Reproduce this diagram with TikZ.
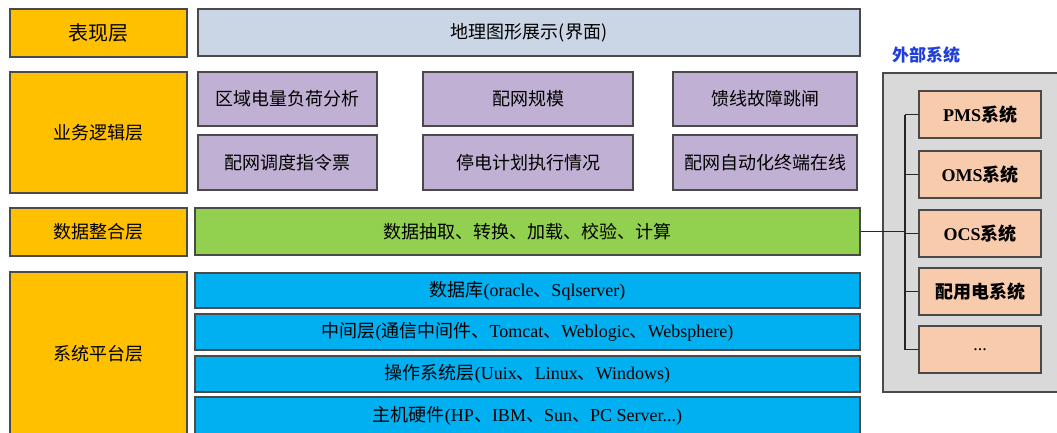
\documentclass[tikz,border=0pt]{standalone}
\usepackage{fontspec}
\setmainfont{Liberation Serif}
\newfontfamily\cjk{Noto Sans CJK SC}
\definecolor{edgec}{HTML}{4A4A4A}
\definecolor{layerc}{HTML}{FFC000}
\definecolor{topc}{HTML}{CAD6E5}
\definecolor{bizc}{HTML}{C0B0D3}
\definecolor{greenc}{HTML}{92D050}
\definecolor{bluec}{HTML}{00B0F0}
\definecolor{extc}{HTML}{D9D9D9}
\definecolor{peachc}{HTML}{F8CBAD}
\definecolor{titlec}{HTML}{1F3FD8}
\tikzset{
  box/.style={draw=edgec, line width=1.2pt, inner sep=0pt, rectangle,
    font=\cjk\fontsize{18}{21}\selectfont, text=black},
  layer/.style={box, fill=layerc},
  topbox/.style={box, fill=topc},
  biz/.style={box, fill=bizc},
  integ/.style={box, fill=greenc},
  plat/.style={box, fill=bluec, font=\fontsize{18}{21}\selectfont},
  extbox/.style={draw=edgec, line width=1.2pt, fill=extc},
  sysbox/.style={box, fill=peachc, font=\bfseries\fontsize{18}{21}\selectfont},
  bus/.style={draw=black!85, line width=1.8pt}
}
\newcommand{\cj}[1]{{\cjk #1}}
\begin{document}
\begin{tikzpicture}[x=1pt,y=-1pt]
\useasboundingbox (0,0) rectangle (1057,432);
% left layer column
\node[layer, minimum width=177pt, minimum height=48pt, font=\cjk\fontsize{20}{23}\selectfont] (l1) at (98.5,33) {表现层};
\node[layer, minimum width=177pt, minimum height=121pt] (l2) at (98.5,132.5) {业务逻辑层};
\node[layer, minimum width=177pt, minimum height=48pt] (l3) at (98.5,232) {数据整合层};
\node[layer, minimum width=177pt, minimum height=164pt] (l4) at (98.5,354) {系统平台层};
% presentation
\node[topbox, minimum width=662pt, minimum height=47pt] (t1) at (529,32.5) {地理图形展示(界面)};
% business
\node[biz, minimum width=179pt, minimum height=54pt] (b1) at (287.5,99) {区域电量负荷分析};
\node[biz, minimum width=210pt, minimum height=54pt] (b2) at (528,99) {配网规模};
\node[biz, minimum width=184pt, minimum height=54pt] (b3) at (765,99) {馈线故障跳闸};
\node[biz, minimum width=179pt, minimum height=55pt] (b4) at (287.5,162.5) {配网调度指令票};
\node[biz, minimum width=210pt, minimum height=55pt] (b5) at (528,162.5) {停电计划执行情况};
\node[biz, minimum width=184pt, minimum height=55pt] (b6) at (765,162.5) {配网自动化终端在线};
% integration
\node[integ, minimum width=665pt, minimum height=47pt] (g1) at (527.5,231.5) {数据抽取、转换、加载、校验、计算};
% platform
\node[plat, minimum width=665pt, minimum height=35pt] (p1) at (527.5,290.5) {\cj{数据库}(oracle\cj{、}Sqlserver)};
\node[plat, minimum width=665pt, minimum height=36pt] (p2) at (527.5,332) {\cj{中间层}(\cj{通信中间件、}Tomcat\cj{、}Weblogic\cj{、}Websphere)};
\node[plat, minimum width=665pt, minimum height=36pt] (p3) at (527.5,374) {\cj{操作系统层}(Uuix\cj{、}Linux\cj{、}Windows)};
\node[plat, minimum width=665pt, minimum height=37pt] (p4) at (527.5,415.5) {\cj{主机硬件}(HP\cj{、}IBM\cj{、}Sun\cj{、}PC Server...)};
% external systems
\node[font=\cjk\bfseries\fontsize{17}{20}\selectfont, text=titlec] (etitle) at (926,55) {外部系统};
\draw[extbox] (883,73) rectangle (1064,392);
\node[sysbox, minimum width=122pt, minimum height=47pt] (s1) at (980,114.5) {PMS\cj{系统}};
\node[sysbox, minimum width=122pt, minimum height=47pt] (s2) at (980,174.5) {OMS\cj{系统}};
\node[sysbox, minimum width=122pt, minimum height=47pt] (s3) at (980,233.5) {OCS\cj{系统}};
\node[sysbox, minimum width=122pt, minimum height=47pt] (s4) at (980,291.5) {\cj{配用电系统}};
\node[sysbox, minimum width=122pt, minimum height=47pt, font=\fontsize{18}{21}\selectfont] (s5) at (980,349.5) {...};
\coordinate (bt) at (905,114.5);
\coordinate (bb) at (905,349.5);
\coordinate (bg) at (905,231.5);
\draw[bus] (bt) -- (bb);
\foreach \s in {s1,s2,s3,s4,s5} { \draw[bus] (\s.west) -- (\s.west -| bt); }
\draw[bus] (g1.east) -- (bg);
\end{tikzpicture}
\end{document}
